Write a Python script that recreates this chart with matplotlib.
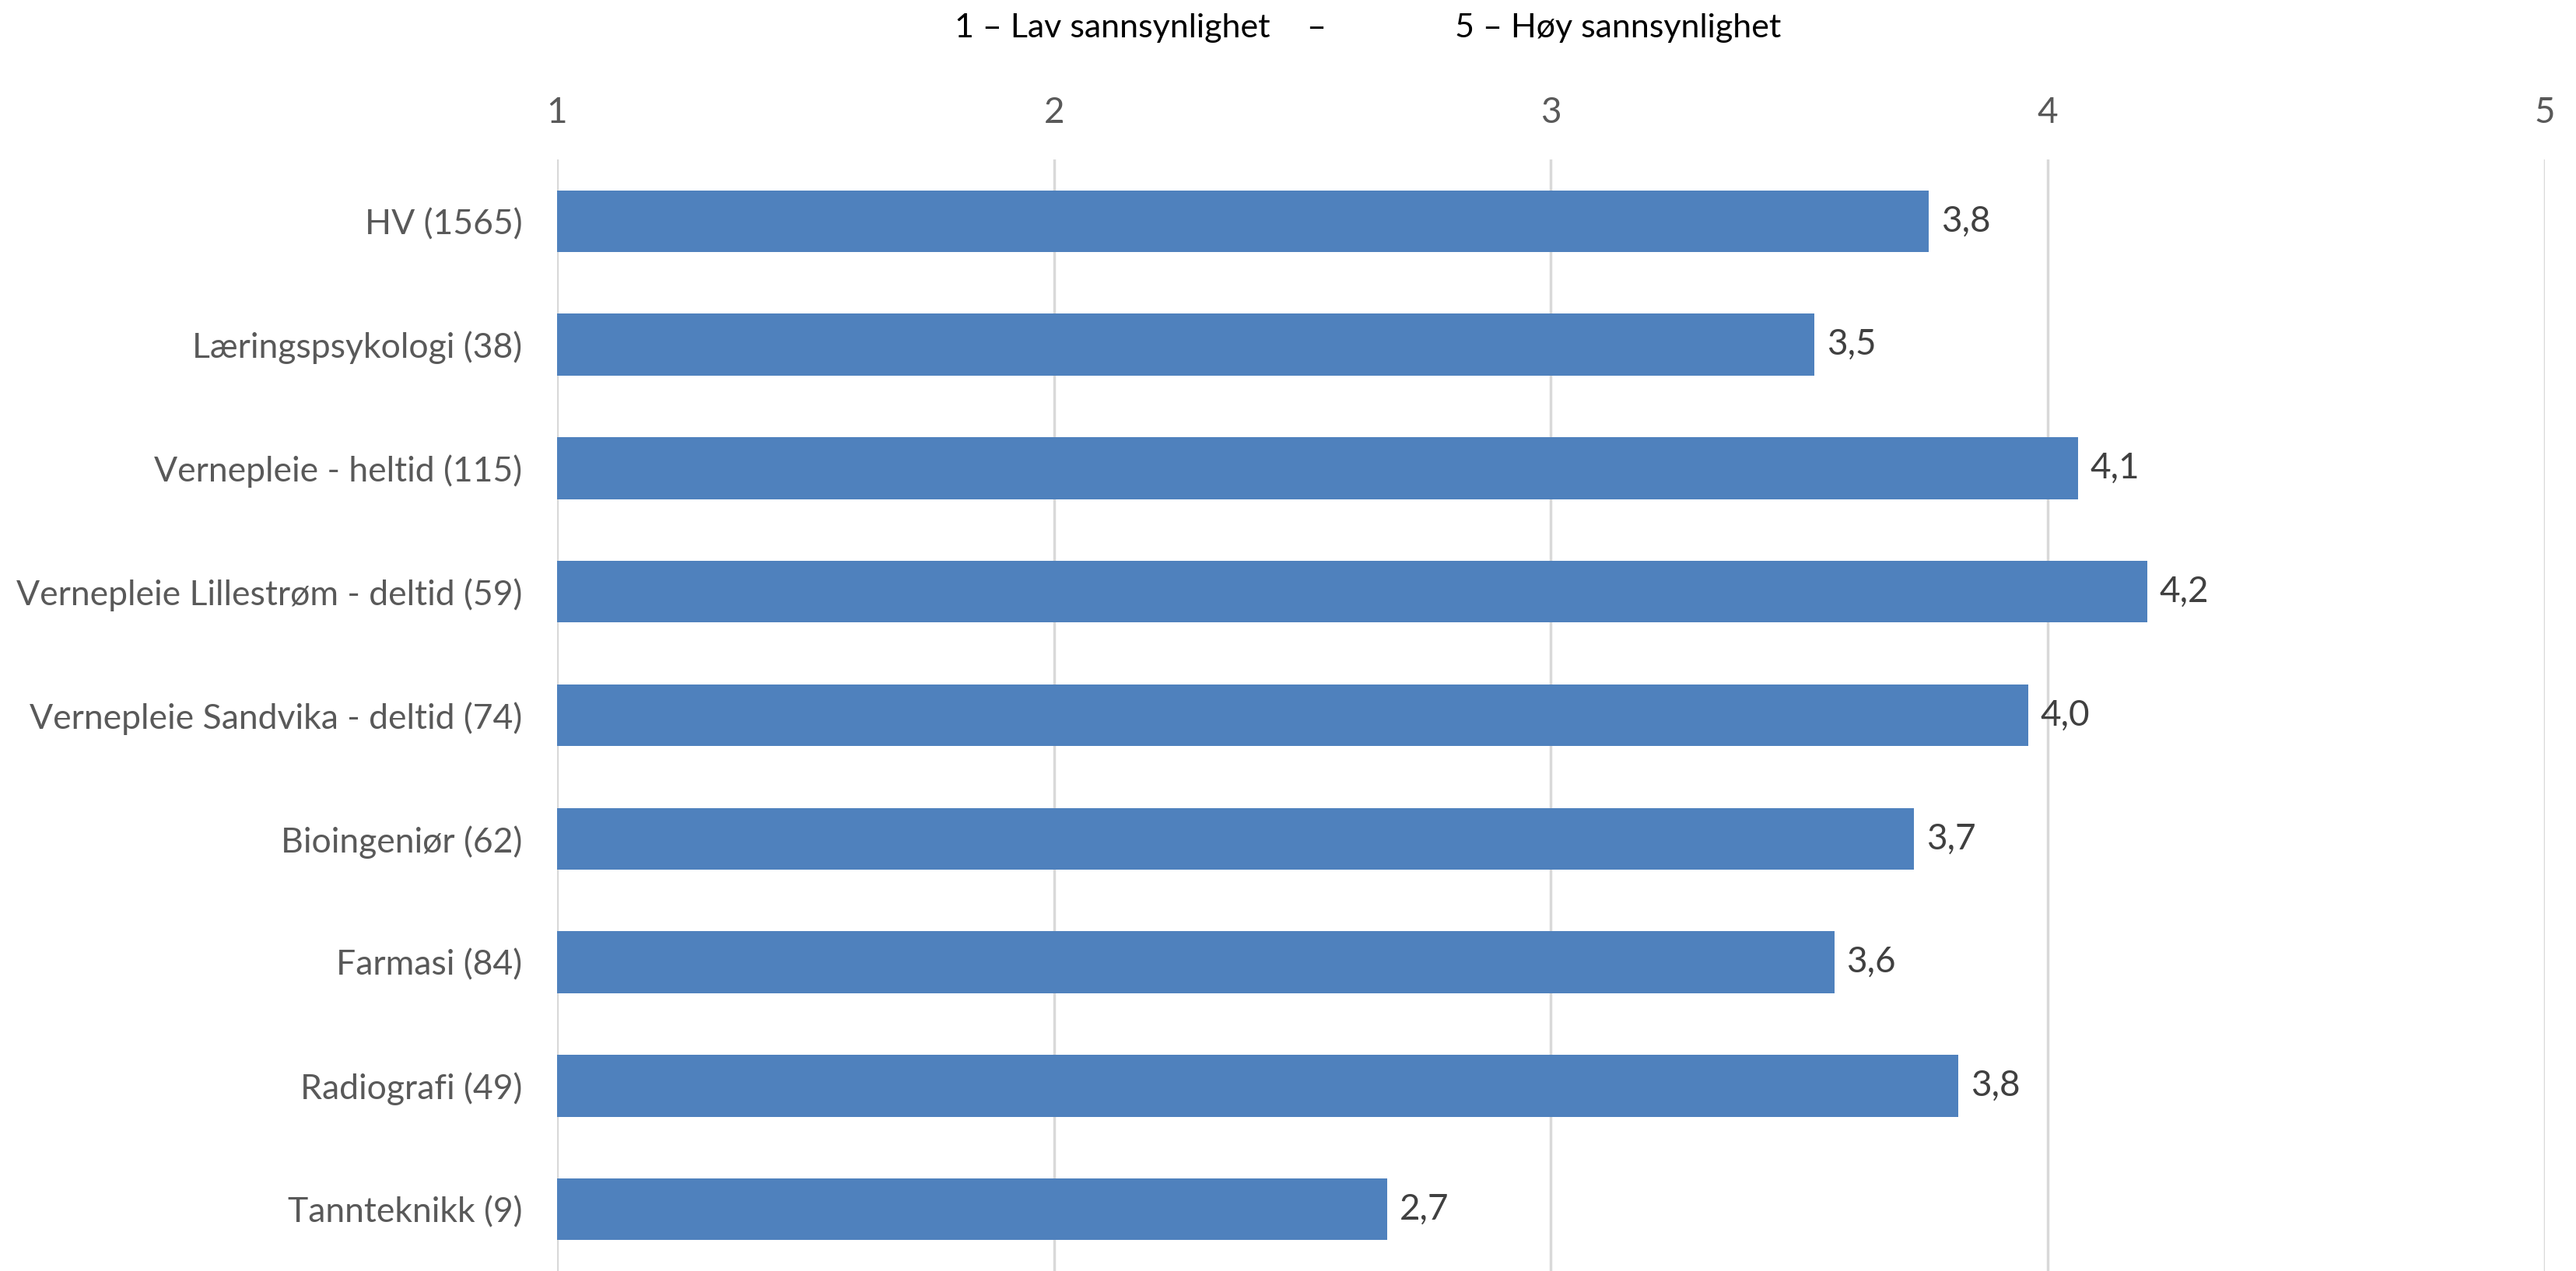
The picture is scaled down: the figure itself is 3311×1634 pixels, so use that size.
import matplotlib.pyplot as plt
import numpy as np

plt.rcParams['font.family'] = ['Lato', 'DejaVu Sans']

# data
categories = ["HV (1565)", "Læringspsykologi (38)", "Vernepleie - heltid (115)",
              "Vernepleie Lillestrøm - deltid (59)", "Vernepleie Sandvika - deltid (74)",
              "Bioingeniør (62)", "Farmasi (84)", "Radiografi (49)", "Tannteknikk (9)"]
values = [3.76, 3.53, 4.06, 4.20, 3.96, 3.73, 3.57, 3.82, 2.67]
xticks = [1, 2, 3, 4, 5]

W, H = 3312, 1634
fig = plt.figure(figsize=(W/100, H/100), dpi=100)
ax = fig.add_axes([716/W, 0, (3271-716)/W, 1-205/H])

y = np.arange(len(categories))
ax.barh(y, np.array(values)-1, left=1, height=0.5, color="#4F81BD", zorder=3)
for yi, v in zip(y, values):
    ax.text(v+0.025, yi, f"{v:.1f}".replace(".", ","), va="center", ha="left",
            fontsize=33, color="#404040")

ax.set_xlim(1, 5)
ax.set_ylim(len(categories)-0.5, -0.5)
ax.set_xticks(xticks)
ax.set_xticklabels([str(t) for t in xticks])
ax.set_yticks(y)
ax.set_yticklabels(categories)
ax.xaxis.tick_top()
ax.tick_params(axis="x", length=0, pad=28, labelsize=33, labelcolor="#595959")
ax.tick_params(axis="y", length=0, pad=32, labelsize=32, labelcolor="#595959")
ax.grid(axis="x", color="#D9D9D9", linewidth=2.5, zorder=0)
for s in ax.spines.values():
    s.set_visible(False)

# header line above the axis
fig.text(1430/W, 1-36/H, "1 – Lav sannsynlighet", ha="center", va="center", fontsize=31, color="black")
fig.text(1692/W, 1-36/H, "–", ha="center", va="center", fontsize=31, color="black")
fig.text(2080/W, 1-36/H, "5 – Høy sannsynlighet", ha="center", va="center", fontsize=31, color="black")

fig.savefig("out.png", dpi=100)
